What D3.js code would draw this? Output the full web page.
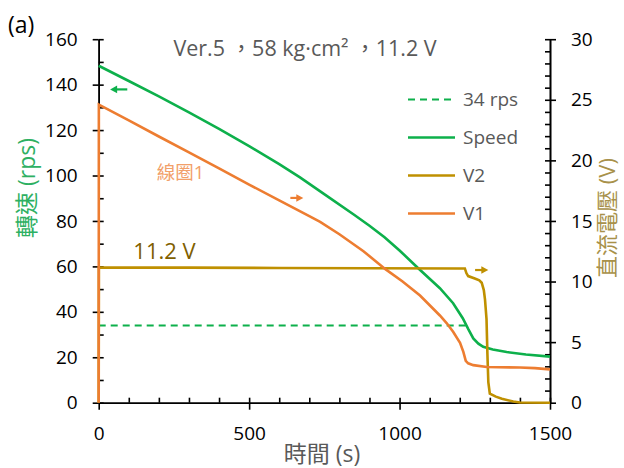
<!DOCTYPE html>
<html><head><meta charset="utf-8">
<script src="https://cdn.jsdelivr.net/npm/d3@7"></script>
<style>body{margin:0;background:#fff}</style>
</head><body>
<svg id="c" width="624" height="468"></svg>
<script>
// ---- data ----
const speedT = [0,100,200,300,400,500,600,669,752,850,900,950,1000,1062,1134,1178,1210,1228,1245,1262,1278,1310,1356,1420,1500];
const speedV = [148.3,141.6,134.8,127.8,120.5,112.9,105,99.2,91.6,82.6,77.9,72.8,67,59.2,50.4,43.8,37.2,32.5,28.3,26,24.6,23.4,22.3,21.2,20.3];
const v1T = [0,0.5,100,200,300,400,500,600,700,736,800,880,954,1010,1068,1134,1157,1178,1201,1212,1220,1228,1245,1290,1400,1450,1500];
const v1V = [0,24.6,23.3,21.97,20.66,19.34,18.0,16.7,15.4,14.93,13.9,12.5,11.0,10.0,8.85,7.2,6.55,5.85,4.95,4.2,3.45,3.25,3.1,2.95,2.9,2.85,2.75];
const v2T = [0,0.5,300,600,900,1200,1217,1222,1228,1250,1265,1273,1280,1284,1289,1292,1295,1300,1320,1340,1378,1400,1500];
const v2V = [0,11.15,11.15,11.12,11.1,11.08,11.08,10.7,10.45,10.25,10.1,9.9,9.3,8.5,6.9,4.0,1.7,0.75,0.5,0.32,0.1,0.02,0];
const refT = [0,1220];
const refV = [34,34];
const xTicks = [0,500,1000,1500];
const yLeftTicks = [0,20,40,60,80,100,120,140,160];
const yRightTicks = [0,5,10,15,20,25,30];
const legendLabels = ["34 rps","Speed","V2","V1"];
const title = "Ver.5 ，58 kg·cm² ，11.2 V";
// annotation anchors (data coords)
const greenArrow = {t0:95,t1:38,v:137.9};
const orangeArrow = {t0:637,t1:680,v:16.9};
const goldArrow = {t0:1251,t1:1295,v:10.95};

const C = {green:"#0db04b", orange:"#ed7d31", gold:"#bf9000", text:"#595959"};
const FONT = "'Open Sans','Noto Sans CJK TC',sans-serif";

const svg = d3.select("#c").style("font-family",FONT);
const x = d3.scaleLinear().domain([0,1500]).range([98.7,550]);
const yL = d3.scaleLinear().domain([0,160]).range([402.7,39.2]);
const yR = d3.scaleLinear().domain([0,30]).range([402.7,39.2]);

function styleAxis(g){
  g.selectAll("path,line").attr("stroke","#000").attr("stroke-width",1.6);
  g.selectAll("text").attr("font-size",19).attr("fill","#000").attr("font-family",FONT);
}
// left axis
svg.append("g").attr("transform",`translate(${x(0)},0)`)
  .call(d3.axisLeft(yL).tickValues(yLeftTicks).tickSize(6).tickSizeOuter(0).tickPadding(15).tickFormat(d3.format("d")))
  .call(styleAxis);
svg.append("g").attr("transform",`translate(${x(0)},0)`)
  .call(d3.axisRight(yL).tickValues(d3.range(0,161,10)).tickSize(5).tickSizeOuter(0).tickFormat(""))
  .call(styleAxis);
// right axis
svg.append("g").attr("transform",`translate(${x(1500)},0)`)
  .call(d3.axisRight(yR).tickValues(yRightTicks).tickSize(6).tickSizeOuter(0).tickPadding(15).tickFormat(d3.format("d")))
  .call(styleAxis);
svg.append("g").attr("transform",`translate(${x(1500)},0)`)
  .call(d3.axisLeft(yR).tickValues(d3.range(0,31,1)).tickSize(5).tickSizeOuter(0).tickFormat(""))
  .call(styleAxis);
// x axis
svg.append("g").attr("transform",`translate(0,${yL(0)})`)
  .call(d3.axisBottom(x).tickValues(xTicks).tickSize(7).tickSizeOuter(0).tickPadding(17).tickFormat(d3.format("d")))
  .call(styleAxis);
svg.append("g").attr("transform",`translate(0,${yL(0)})`)
  .call(d3.axisTop(x).tickValues(d3.range(0,1501,100)).tickSize(5).tickSizeOuter(0).tickFormat(""))
  .call(styleAxis);

// series
const lineL = d3.line().x(d=>x(d[0])).y(d=>yL(d[1]));
const lineR = d3.line().x(d=>x(d[0])).y(d=>yR(d[1]));
const zip = (a,b)=>a.map((v,i)=>[v,b[i]]);
svg.append("path").attr("d",lineL(zip(refT,refV))).attr("fill","none")
  .attr("stroke",C.green).attr("stroke-width",2).attr("stroke-dasharray","7,5");
svg.append("path").attr("d",lineL(zip(speedT,speedV))).attr("fill","none")
  .attr("stroke",C.green).attr("stroke-width",2.6);
svg.append("path").attr("d",lineR(zip(v2T,v2V))).attr("fill","none")
  .attr("stroke",C.gold).attr("stroke-width",2.6);
svg.append("path").attr("d",lineR(zip(v1T,v1V))).attr("fill","none")
  .attr("stroke",C.orange).attr("stroke-width",2.6);

// arrows
function arrow(a, ys, col){
  const x0=x(a.t0), x1=x(a.t1), yy=ys(a.v);
  const dir = Math.sign(x1-x0);
  svg.append("line").attr("x1",x0).attr("x2",x1-dir*5).attr("y1",yy).attr("y2",yy)
    .attr("stroke",col).attr("stroke-width",2.2);
  svg.append("path").attr("d",`M${x1},${yy}L${x1-dir*7},${yy-3.8}L${x1-dir*7},${yy+3.8}Z`).attr("fill",col);
}
arrow(greenArrow,yL,C.green);
arrow(orangeArrow,yR,C.orange);
arrow(goldArrow,yR,C.gold);

// legend
const lg = svg.append("g");
const legendStyles = [
  {c:C.green,d:"7,5",w:2},{c:C.green,d:null,w:2.6},{c:C.gold,d:null,w:2.6},{c:C.orange,d:null,w:2.6}];
legendLabels.forEach((l,i)=>{
  const yy = 99.5 + i*38;
  const ln = lg.append("line").attr("x1",408).attr("x2",455).attr("y1",yy).attr("y2",yy)
    .attr("stroke",legendStyles[i].c).attr("stroke-width",legendStyles[i].w);
  if(legendStyles[i].d) ln.attr("stroke-dasharray",legendStyles[i].d);
  lg.append("text").attr("x",463).attr("y",yy).attr("dy","0.35em").attr("font-size",19)
    .attr("fill",C.text).text(l);
});

// texts
svg.append("text").attr("x",8).attr("y",33).attr("font-size",23).attr("fill","#000").text("(a)");
svg.append("text").attr("x",305).attr("y",56).attr("text-anchor","middle").attr("font-size",21.5)
  .attr("fill",C.text).text(title);
svg.append("text").attr("x",322).attr("y",462).attr("text-anchor","middle").attr("font-size",23)
  .attr("fill",C.text).text("時間 (s)");
svg.append("text").attr("transform","translate(35,188) rotate(-90)").attr("text-anchor","middle")
  .attr("font-size",23).attr("fill","#2eb062").text("轉速 (rps)");
svg.append("text").attr("transform","translate(615,218) rotate(-90)").attr("text-anchor","middle")
  .attr("font-size",22).attr("fill","#a8914a").text("直流電壓 (V)");
svg.append("text").attr("x",x(193)).attr("y",yL(98.5)).attr("font-size",18.5).attr("fill","#f2a06a").text("線圈1");
svg.append("text").attr("x",x(115)).attr("y",yL(63.2)).attr("font-size",22).attr("fill","#7f6000").text("11.2 V");
</script>
</body></html>
